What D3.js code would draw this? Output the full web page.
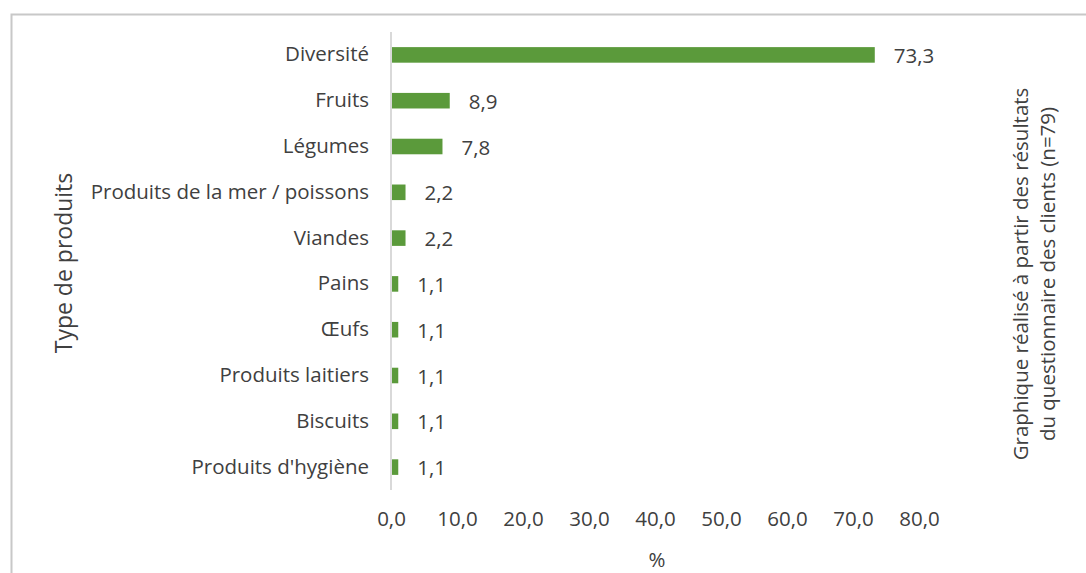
<!DOCTYPE html>
<html>
<head>
<meta charset="utf-8">
<script src="https://cdn.jsdelivr.net/npm/d3@7"></script>
<style>
  body { margin: 0; background: #fff; }
  text { font-family: "Open Sans", "Noto Sans", sans-serif; fill: #404040; }
</style>
</head>
<body>
<div id="container"></div>
<script>
const categories = [
  "Diversité", "Fruits", "Légumes", "Produits de la mer / poissons", "Viandes",
  "Pains", "Œufs", "Produits laitiers", "Biscuits", "Produits d'hygiène"
];
const values = [73.3, 8.9, 7.8, 2.2, 2.2, 1.1, 1.1, 1.1, 1.1, 1.1];
const xTicks = [0, 10, 20, 30, 40, 50, 60, 70, 80];

const width = 1086;
const height = 573;
const plot = { left: 391, right: 919, top: 32, bottom: 490 };
const fmt = (v) => v.toFixed(1).replace(".", ",");
const labelSize = 20.5;

const svg = d3.select("#container")
  .append("svg")
  .attr("width", width)
  .attr("height", height);

// chart frame
svg.append("rect")
  .attr("x", 11.5).attr("y", 14.5)
  .attr("width", width).attr("height", height)
  .attr("fill", "none")
  .attr("stroke", "#c8c8c8")
  .attr("stroke-width", 2);

const scaleX = d3.scaleLinear().domain([0, 80]).range([plot.left, plot.right]);
const scaleY = d3.scaleBand()
  .domain(categories)
  .range([plot.top, plot.bottom])
  .paddingInner(0.66)
  .paddingOuter(0.33);

// x tick labels (no axis line)
const axisX = svg.append("g")
  .attr("transform", `translate(0, ${plot.bottom + 13})`)
  .call(d3.axisBottom(scaleX).tickValues(xTicks).tickFormat(fmt).tickSize(0).tickPadding(8));
axisX.select(".domain").remove();
axisX.attr("font-size", labelSize).attr("font-family", null);
axisX.selectAll("text").attr("fill", "#404040");

// y labels
const axisY = svg.append("g")
  .attr("transform", `translate(${plot.left}, 0)`)
  .call(d3.axisLeft(scaleY).tickSize(0).tickPadding(22));
axisY.select(".domain").remove();
axisY.attr("font-size", labelSize).attr("font-family", null);
axisY.selectAll("text").attr("fill", "#404040");

// bars
svg.append("g")
  .selectAll("rect")
  .data(values)
  .join("rect")
  .attr("x", scaleX(0))
  .attr("y", (d, i) => scaleY(categories[i]))
  .attr("width", (d) => scaleX(d) - scaleX(0))
  .attr("height", scaleY.bandwidth())
  .attr("fill", "#5b9a3b");

// vertical axis line
svg.append("line")
  .attr("x1", plot.left).attr("x2", plot.left)
  .attr("y1", plot.top).attr("y2", plot.bottom)
  .attr("stroke", "#d9d9d9")
  .attr("stroke-width", 2);

// value labels
svg.append("g")
  .selectAll("text")
  .data(values)
  .join("text")
  .attr("x", (d) => scaleX(d) + 19)
  .attr("y", (d, i) => scaleY(categories[i]) + scaleY.bandwidth() / 2)
  .attr("dominant-baseline", "central")
  .attr("font-size", labelSize)
  .text(fmt);

// axis titles
svg.append("text")
  .attr("x", (plot.left + plot.right) / 2 + 2)
  .attr("y", 559)
  .attr("text-anchor", "middle")
  .attr("dominant-baseline", "central")
  .attr("font-size", labelSize)
  .text("%");

svg.append("text")
  .attr("transform", `translate(63, 263) rotate(-90)`)
  .attr("text-anchor", "middle")
  .attr("dominant-baseline", "central")
  .attr("font-size", 23)
  .text("Type de produits");

const note = svg.append("text")
  .attr("transform", `translate(1021, 274) rotate(-90)`)
  .attr("text-anchor", "middle")
  .attr("font-size", labelSize);
note.append("tspan").attr("x", 0).attr("dy", "0.35em").text("Graphique réalisé à partir des résultats");
note.append("tspan").attr("x", 0).attr("dy", "1.3em").text("du questionnaire des clients (n=79)");
</script>
</body>
</html>
